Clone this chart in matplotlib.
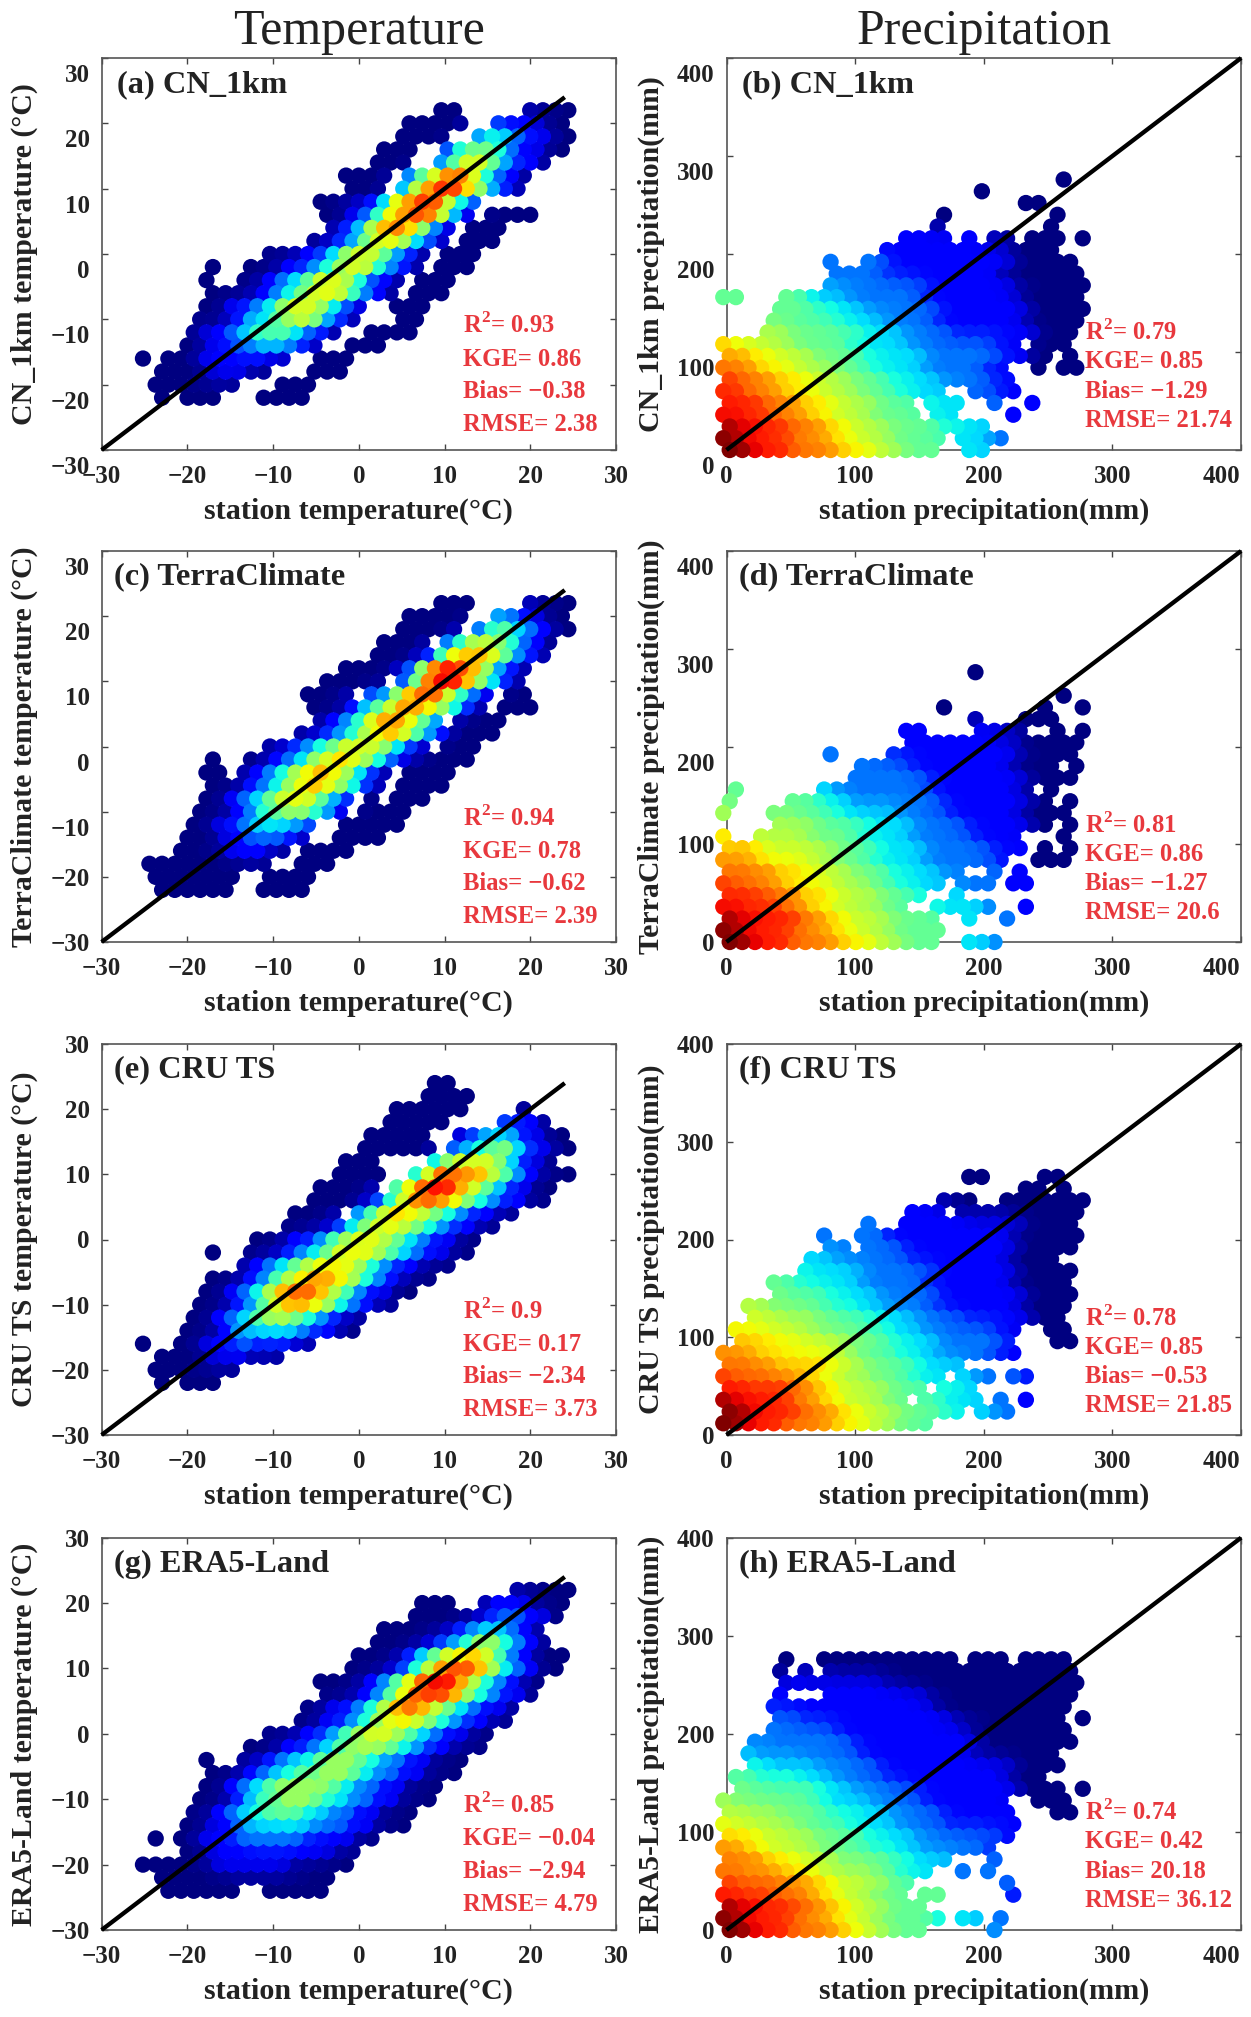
import matplotlib
matplotlib.use("Agg")
import matplotlib.pyplot as plt
import numpy as np
from matplotlib.transforms import ScaledTranslation

plt.rcParams['font.family'] = ['Liberation Serif', 'DejaVu Serif']
plt.rcParams['mathtext.fontset'] = 'custom'
plt.rcParams['mathtext.rm'] = 'Liberation Serif:bold'
plt.rcParams['mathtext.bf'] = 'Liberation Serif:bold'

W, H = 1251, 2017
TEXT = '#222222'
RED = '#e8383d'

# density level (0-9) on a coarse grid
# each row: (first column, levels), '.' = no dot there
temp_rows_y = [24, 22, 20, 18, 16, 14, 12, 10, 8, 6, 4, 2, 0, -2, -4, -6, -8, -10, -12, -14, -16, -18, -20, -22, -24]
precip_rows_y = [276, 264, 252, 240, 228, 216, 204, 192, 180, 168, 156, 144, 132, 120, 108, 96, 84, 72, 60, 48, 36, 24, 12, 0]

cn_temp = [
    (0, ""), (23, "00.....0000"), (21, "00000..111100"), (20, "0000..23321100"), (19, "000..1345421100"),
    (18, "000..136642110"), (16, "0000.1358863210"), (16, "000.2589975210"), (14, "0000026788521"),
    (14, "001247788620.0000"), (15, "0125787510.000"), (13, "00124665210.000"), (10, "0001135664210.000"),
    (5, "0..00011235663210.000"), (5, "0..0012346653110.000"), (5, "000012346664210.000"),
    (5, "0011235665310..000"), (4, "0001334565210...00"), (4, "011234443110..0000"), (3, "00112233210..000"),
    (0, "0.0001111100..000"), (1, "000011100...000"), (1, "0000000...000"), (1, "0.000...0000"), (0, ""),
]
terra_temp = [
    (0, ""), (23, "000....0000"), (21, "00000..221100"), (20, "00000.13432100"), (19, "0000.135654210"),
    (18, "00000367764210"), (16, "000001589875210"), (14, "00000.1489975310"), (13, "0000.1147885310.00"),
    (13, "00013468764310.000"), (14, "0123677642.0000"), (12, "0012356764210000"), (10, "0012346665310.000"),
    (5, "0..001235676531000000"), (5, "00.012356765310.0000"), (5, "00012356765310.0000"),
    (5, "001234666421.0.000"), (4, "000124455320.0000"), (4, "0011233321..00000"), (3, "0001122210..0000"),
    (3, "000011100.0000"), (0, "0000000000..000"), (1, "0000000..0000"), (1, "000000..0000"), (0, ""),
]
cru_temp = [
    (23, "00"), (22, "0000"), (20, "000000....0"), (19, "00000....1110"), (18, "00000..012331100"),
    (17, "000000.1234531100"), (16, "000....2466653110"), (15, "0000..2588775421000"), (14, "00000.3689976431100"),
    (13, "0000013588764321100"), (12, "0000.2467654321100"), (11, "00001346654321100"), (9, "000112456654321100"),
    (5, "0..000123466654321100"), (8, "01234566653211000"), (5, "000124567765321000"),
    (5, "00123578875421100"), (4, "0001246776532100"), (4, "00123455432100"), (3, "00013333321100"),
    (0, "0..00111211100"), (1, "0000111000"), (1, "0000000"), (1, "0.000"), (0, ""),
]
era_temp = [
    (0, ""), (29, "00000"), (22, "000..0111000"), (21, "000000122110"), (19, "0000001233210"),
    (18, "00000123553210"), (17, "00001346676421000"), (16, "00001357887532100"), (14, "000012468997532100"),
    (14, "00012468887432110"), (13, "00112357875432110"), (12, "00112356654321100"), (10, "000112456654321100"),
    (8, "0001123455543211000"), (5, "0..001233455432211000"), (5, "00012334455432211000"),
    (5, "0012345555432211000"), (4, "0001344554332211000"), (4, "001233444332211000"), (3, "001123333322211000"),
    (1, "0.0011122222111100"), (3, "00111111111100"), (0, "00000011111100000"), (1, "00000000000000"), (2, "000000..00000"),
]

cn_precip = [
    (27, "0"), (20, "0"), (24, "00"), (17, "0........0"), (17, "0........0"),
    (14, "1111.1.00.000.0"), (13, "11111111110000"), (8, "2..22111111111100000"), (9, "22221111111110000000"),
    (8, "222222221111111000000"), (0, "44...443332222221111111100000"),
    (4, "44433332222221111111" + "00000"), (4, "4444433332222111111100000"),
    (3, "5544444433322221111111000"), (0, "6555554444333332222222" + "11.000"),
    (0, "776655544443333322222211" + "00.0"), (0, "777666555444333322222" + "11..0.00"),
    (0, "877766655544433332222" + "11"), (0, "88777666555444" + "3333..2211"),
    (0, "888777666555444.333..2..1"), (0, "8888777665554444.33....1"), (0, "98888777665554444" + "3333"),
    (0, "998888777665554444.3322"), (0, "99888777766655444..33"),
]
terra_precip = [
    (20, "0"), (0, ""), (27, "0"), (17, "0.......0..0"), (20, "0...000"),
    (14, "11....1100..0.0"), (15, "11111111100000"), (8, "2....111111111100000"), (11, "222211111111" + "0000.0"),
    (10, "22222211111111" + "0000"), (1, "4......322222222" + "1111111" + "0.0"),
    (0, "4....44333" + "2222222" + "1111111" + "00.0"), (0, "5...44444" + "33333" + "2222" + "111111" + "0000"),
    (4, "555" + "4444" + "3333" + "2222" + "11111" + "00.0"), (0, "6..5555" + "4444" + "3333" + "22222" + "1111...0"),
    (0, "666555555" + "444" + "3333" + "22222" + "111.0.0"), (0, "777" + "6666" + "55" + "444" + "3333" + "222222" + "1..000"),
    (0, "7777666555444" + "3333" + "22..2.1"), (0, "877776666555443333.222.11"), (0, "8887776665554443..3"),
    (0, "888887766555544..33332..1"), (0, "98888877665554444..3..2"), (0, "998888777665554444"), (0, "99888777766655444..332"),
]
cru_precip = [
    (0, ""), (19, "00....00"), (24, "00.0"), (17, "000..0000000"),
    (15, "111.0000000000"), (11, "2..1111111111" + "0000"), (8, "2..22" + "1111111111" + "000000"), (8, "22.222" + "111111111" + "00000"),
    (7, "33222222" + "11111111" + "0000"), (6, "33333" + "222222" + "111111" + "00000"), (4, "44" + "33333" + "22222" + "1111111" + "00000"),
    (4, "4444" + "3333" + "22222" + "1111111" + "0000"), (2, "55" + "44444" + "3333" + "2222" + "1111111" + "0000"),
    (2, "55555" + "4444" + "3333" + "2222" + "11111" + "000"), (1, "666" + "5555" + "44444" + "333" + "222222" + "11..00"),
    (1, "66666" + "5555" + "444" + "3333" + "22222" + "1...00"), (0, "777666666554443332222" + "211"), (0, "7777666665544443333"),
    (0, "877777766555444333.322.21"), (0, "888887766555544" + "4.333"), (0, "988888776655544.44333.2.1"),
    (0, "99888877766555444" + "33.322"), (0, "99888777766655444"), (0, ""),
]
era_precip = [
    (5, "0..00000000000.000.0000"), (4, "0.0.00000000000000000000"), (5, "11111111" + "0000000000000000"), (4, "1...11111111" + "000000000000"),
    (4, "1111111111111" + "00000000000"), (4, "22" + "111111111111" + "000000000.0"), (4, "22222" + "11111111111" + "00000000"),
    (2, "22222222" + "1111111111" + "00000000"), (2, "322222222" + "111111111" + "0000000"), (2, "33333" + "22222" + "11111111" + "111" + "0000"),
    (1, "44" + "333333" + "2222" + "1111111" + "111" + "000"), (1, "444444" + "333" + "22222" + "11111111" + "0000.0"),
    (0, "5444" + "4444" + "3333" + "2222" + "1111111..000"), (0, "5555" + "4444" + "33333" + "2222" + "111111...00"),
    (0, "655555" + "4444" + "3333" + "2222" + "111111"), (0, "6665555" + "4444" + "3333" + "2222222" + "1"),
    (0, "776655554444" + "3333" + "22222" + "1"), (0, "777666555" + "44444" + "3333...2"), (0, "77777666555544333.." + "2.2"),
    (0, "877777766555544.......2"), (0, "888877776655444.44.....1"), (0, "9888887766555444"), (0, "9988887776655444" + "43.33.2"),
    (0, "998887777665544" + "4.....2"),
]

panel_names = ["(a) CN_1km", "(b) CN_1km", "(c) TerraClimate", "(d) TerraClimate",
               "(e) CRU TS", "(f) CRU TS", "(g) ERA5-Land", "(h) ERA5-Land"]
temp_ylabels = ["CN_1km temperature (°C)", "TerraClimate temperature (°C)", "CRU TS temperature (°C)", "ERA5-Land temperature (°C)"]
precip_ylabels = ["CN_1km precipitation(mm)", "TerraClimate precipitation(mm)", "CRU TS precipitation(mm)", "ERA5-Land precipitation(mm)"]
stats_temp = [
    ["0.93", "0.86", "−0.38", "2.38"], ["0.94", "0.78", "−0.62", "2.39"],
    ["0.9", "0.17", "−2.34", "3.73"], ["0.85", "−0.04", "−2.94", "4.79"],
]
stats_precip = [
    ["0.79", "0.85", "−1.29", "21.74"], ["0.81", "0.86", "−1.27", "20.6"],
    ["0.78", "0.85", "−0.53", "21.85"], ["0.74", "0.42", "20.18", "36.12"],
]
temp_ticks = [-30, -20, -10, 0, 10, 20, 30]
precip_ticks = [0, 100, 200, 300, 400]
temp_grids = [cn_temp, terra_temp, cru_temp, era_temp]
precip_grids = [cn_precip, terra_precip, cru_precip, era_precip]

# jet position of each density level
level_jet = [0.0, 0.12, 0.24, 0.35, 0.47, 0.57, 0.66, 0.77, 0.88, 1.0]

# axes boxes in pixels
row_top = [58, 551, 1044, 1537.7]
row_bot = [450, 942, 1435, 1930]
col_left = [101.6, 726.5]
col_width = 514.6


def fmt(v):
    return f"{v}".replace("-", "−")


def grid_points(rows, ys, x0, dx, shift, keep):
    cells = {}
    for r, (start, levels) in enumerate(rows):
        for j, ch in enumerate(levels):
            if ch != '.':
                cells[(r, start + j)] = int(ch)
    xs, yy, lv = [], [], []
    for (r, c), level in cells.items():
        # soften the colour steps a little with the neighbouring readings
        near = [cells[(r + a, c + b)] for a in (-1, 0, 1) for b in (-1, 0, 1)
                if (a or b) and (r + a, c + b) in cells]
        soft = (keep * level + sum(near)) / (keep + len(near))
        xs.append(x0 + dx * c + (shift if r % 2 else -shift))
        yy.append(ys[r])
        lv.append(soft)
    order = np.argsort(lv)
    return np.array(xs)[order], np.array(yy)[order], np.array(lv)[order]


def draw_panel(fig, r, c, rows, ys, x0, dx, shift, lim, ticks, name, name_x, ylabel, stats, stat_y, stat_x, label_x, drop):
    ax = fig.add_axes([col_left[c] / W, 1 - row_bot[r] / H, col_width / W, (row_bot[r] - row_top[r]) / H])
    xs, yy, lv = grid_points(rows, ys, x0, dx, shift, 6 if c == 0 else 3)
    colors = plt.cm.jet(np.interp(lv, range(10), level_jet))
    ax.scatter(xs, yy, c=colors, s=138, linewidths=0, clip_on=False, zorder=2.6)
    line_end = 24 if c == 0 else 400
    ax.plot([lim[0], line_end], [lim[0], line_end], color='k', lw=3.1, solid_capstyle='butt', zorder=3, clip_on=False)
    ax.set_xlim(lim)
    ax.set_ylim(lim)
    ax.set_xticks(ticks, [fmt(t) for t in ticks])
    ax.set_yticks(ticks, [fmt(t) for t in ticks])
    ax.tick_params(direction='in', length=4.3, width=1, color='#444444', top=True, right=True, labelsize=18,
                   labelcolor=TEXT, pad=8.5)
    ax.tick_params(axis='x', pad=11)
    for lab in ax.get_xticklabels() + ax.get_yticklabels():
        lab.set_fontweight('bold')
    # some y labels sit lower than their ticks in the original
    for lab, tick in zip(ax.get_yticklabels(), ticks):
        if tick in drop:
            lab.set_transform(lab.get_transform() + ScaledTranslation(0, -15 / 100, fig.dpi_scale_trans))
    if c == 1:
        last = ax.get_xticklabels()[-1]
        last.set_transform(last.get_transform() + ScaledTranslation(-20 / 100, 0, fig.dpi_scale_trans))
    for s in ax.spines.values():
        s.set_color('#555555')
        s.set_linewidth(1.2)
    ax.set_xlabel("station temperature(°C)" if c == 0 else "station precipitation(mm)", fontsize=21.7,
                  fontweight='bold', color=TEXT)
    ax.xaxis.set_label_coords(0.5, -61 / (row_bot[r] - row_top[r]), transform=ax.transAxes)
    ax.xaxis.label.set_verticalalignment('center')
    ax.set_ylabel(ylabel, fontsize=21.5, fontweight='bold', color=TEXT)
    ax.yaxis.set_label_coords(label_x, 0.5)
    ax.yaxis.label.set_verticalalignment('center')
    ax.text(name_x, 0.933, name, transform=ax.transAxes, fontsize=23.3, fontweight='bold', color=TEXT, va='center', zorder=4)
    keys = ["R$^{2}$= ", "KGE= ", "Bias= ", "RMSE= "]
    for key, val, y in zip(keys, stats, stat_y):
        ax.text(stat_x, y, key + val, transform=ax.transAxes, fontsize=17.7, fontweight='bold', color=RED,
                va='center', zorder=4)


fig = plt.figure(figsize=(W / 100, H / 100), dpi=100)
fig.text(359 / W, 1 - 32 / H, "Temperature", fontsize=36, color=TEXT, ha='center', va='center')
fig.text(984 / W, 1 - 32 / H, "Precipitation", fontsize=36, color=TEXT, ha='center', va='center')

temp_drop = [temp_ticks, [-10, 0, 10, 20, 30], [], []]
precip_drop = [precip_ticks, [200, 300, 400], [], []]
temp_stat_y = [0.318, 0.232, 0.149, 0.066]
precip_stat_y = [0.30, 0.225, 0.15, 0.075]

for r in range(4):
    draw_panel(fig, r, 0, temp_grids[r], temp_rows_y, -24.8, 1.48, 0.375, (-30, 30), temp_ticks,
               panel_names[2 * r], 0.029 if r == 0 else 0.024, temp_ylabels[r], stats_temp[r], temp_stat_y, 0.702, -0.15, temp_drop[r])
    draw_panel(fig, r, 1, precip_grids[r], precip_rows_y, 0, 9.8, 2.5, (0, 400), precip_ticks,
               panel_names[2 * r + 1], 0.03 if r == 0 else 0.024, precip_ylabels[r], stats_precip[r], precip_stat_y, 0.697, -0.147, precip_drop[r])

fig.savefig("out.png", dpi=100)
